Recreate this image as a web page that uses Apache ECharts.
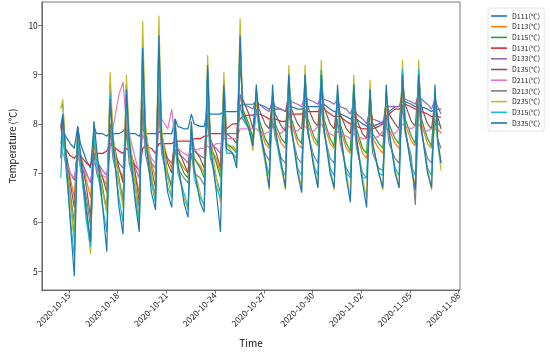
<!DOCTYPE html>
<html><head><meta charset="utf-8">
<script src="https://cdn.jsdelivr.net/npm/echarts@6/dist/echarts.min.js"></script>
<style>html,body{margin:0;padding:0;background:#fff}#c{width:550px;height:353px}</style>
</head><body><div id="c"></div>
<script>
// sampling times (year 2020): first partial day, then 4 readings per day, then last reading
const firstTimes = ['2020-10-14 12:00', '2020-10-14 15:00', '2020-10-14 19:00'];
const sampleDays = ['2020-10-15','2020-10-16','2020-10-17','2020-10-18','2020-10-19','2020-10-20','2020-10-21','2020-10-22','2020-10-23','2020-10-24','2020-10-25','2020-10-26','2020-10-27','2020-10-28','2020-10-29','2020-10-30','2020-10-31','2020-11-01','2020-11-02','2020-11-03','2020-11-04','2020-11-05','2020-11-06'];
const sampleHours = ['02:00', '08:00', '13:00', '17:00'];
const lastTimes = ['2020-11-06 22:00'];

const seriesNames = ['D111(℃)','D113(℃)','D115(℃)','D131(℃)','D133(℃)','D135(℃)','D211(℃)','D213(℃)','D235(℃)','D315(℃)','D335(℃)'];

const D111 = [8.0,7.9,7.75, 7.6,7.5,7.95,7.6, 7.25,7.1,7.95,7.8, 7.8,7.75,7.85,7.8, 7.8,7.85,7.95,7.8, 7.8,7.75,7.9,7.8, 7.8,7.8,7.85,7.8, 7.8,7.8,8.1,7.95, 7.9,7.9,8.2,8.0, 7.95,7.95,8.3,8.2, 8.2,8.2,8.25,8.25, 8.25,8.25,8.35,8.4, 8.4,8.4,8.45,8.4, 8.35,8.3,8.35,8.3, 8.3,8.25,8.35,8.35, 8.3,8.3,8.35,8.35, 8.35,8.35,8.4,8.4, 8.3,8.25,8.25,8.2, 8.15,8.1,8.15,8.1, 8.0,7.95,8.0,7.95, 8.0,8.05,8.15,8.25, 8.35,8.35,8.45,8.45, 8.4,8.35,8.4,8.35, 8.3,8.25,8.3,8.3, 8.3];
const D113 = [7.9,8.0,7.4, 6.9,6.5,7.6,7.35, 6.85,6.5,7.6,7.2, 6.9,6.75,8.0,7.5, 7.1,6.9,8.0,7.5, 7.0,6.6,8.2,7.7, 7.2,6.9,8.1,7.7, 7.3,7.1,7.7,7.3, 7.1,7.0,7.7,7.3, 7.15,7.0,8.5,7.5, 7.3,7.0,8.3,7.55, 7.55,7.45,8.6,8.3, 7.9,7.6,8.5,8.0, 7.6,7.5,8.4,7.9, 7.6,7.5,8.6,8.0, 7.6,7.5,8.6,8.0, 7.65,7.55,8.7,8.0, 7.6,7.5,8.4,7.9, 7.5,7.4,8.4,7.8, 7.4,7.3,8.3,7.7, 7.5,7.4,8.4,7.9, 7.6,7.5,8.7,8.0, 7.65,7.55,8.7,8.0, 7.6,7.5,8.4,7.9, 7.8];
const D115 = [8.35,8.4,7.4, 6.5,5.7,7.85,7.3, 6.3,5.5,7.9,7.3, 6.7,6.2,8.8,7.7, 6.9,6.4,8.8,7.6, 6.8,6.0,9.4,7.8, 6.9,6.5,9.6,7.7, 7.0,6.7,7.9,7.3, 7.0,6.9,7.9,7.3, 7.1,6.9,9.0,7.6, 7.2,6.9,8.6,7.6, 7.5,7.4,9.6,8.3, 8.0,7.7,8.7,8.1, 7.7,7.55,8.6,8.0, 7.7,7.6,9.0,8.1, 7.7,7.6,9.0,8.1, 7.75,7.6,9.1,8.1, 7.7,7.55,8.6,8.0, 7.6,7.45,8.8,7.9, 7.5,7.4,8.7,7.8, 7.6,7.5,8.6,8.0, 7.7,7.6,9.1,8.1, 7.75,7.6,9.1,8.1, 7.7,7.55,8.6,8.0, 7.95];
const D131 = [7.95,7.7,7.5, 7.35,7.3,7.4,7.35, 7.2,7.15,7.4,7.4, 7.4,7.45,7.6,7.55, 7.45,7.4,7.5,7.45, 7.15,7.05,7.5,7.55, 7.5,7.4,7.6,7.6, 7.6,7.6,7.65,7.65, 7.65,7.65,7.65,7.7, 7.7,7.75,7.75,7.8, 7.8,7.8,7.85,7.9, 8.0,8.0,8.1,8.15, 8.18,8.18,8.2,8.2, 8.15,8.1,8.1,8.1, 8.05,8.05,8.15,8.2, 8.2,8.2,8.25,8.25, 8.25,8.25,8.3,8.3, 8.2,8.15,8.15,8.15, 8.05,8.0,8.0,7.95, 7.9,7.9,7.9,7.9, 7.95,8.0,8.1,8.2, 8.3,8.3,8.35,8.4, 8.35,8.3,8.3,8.25, 8.2,8.15,8.15,8.15, 8.13];
const D133 = [7.7,7.8,7.4, 7.0,6.85,7.5,7.3, 7.0,6.8,7.4,7.25, 7.05,6.95,7.8,7.5, 7.2,7.1,7.9,7.5, 7.1,6.9,8.3,7.5, 7.2,7.1,8.4,7.5, 7.3,7.2,7.6,7.4, 7.3,7.2,7.6,7.45, 7.35,7.3,8.1,7.6, 7.5,7.4,8.0,7.8, 7.8,7.8,8.6,8.4, 8.35,8.3,8.5,8.4, 8.3,8.25,8.5,8.35, 8.3,8.25,8.6,8.45, 8.4,8.35,8.6,8.5, 8.45,8.4,8.6,8.5, 8.45,8.4,8.5,8.35, 8.3,8.2,8.4,8.2, 8.1,8.0,8.3,8.1, 8.05,8.0,8.4,8.35, 8.35,8.35,8.6,8.5, 8.45,8.4,8.6,8.5, 8.4,8.3,8.5,8.35, 8.2];
const D135 = [7.95,8.2,7.5, 6.8,6.3,7.8,7.4, 6.7,6.1,7.8,7.3, 6.9,6.6,8.7,7.7, 7.1,6.8,8.6,7.6, 7.0,6.4,9.6,7.9, 7.1,6.7,9.5,7.8, 7.2,7.0,7.9,7.5, 7.2,7.0,7.85,7.5, 7.3,7.1,8.9,7.7, 7.4,7.1,8.9,7.8, 7.7,7.6,9.2,8.5, 8.2,7.9,8.6,8.3, 8.0,7.9,8.5,8.2, 7.95,7.85,8.8,8.3, 8.0,7.9,8.8,8.35, 8.05,7.95,8.9,8.35, 8.0,7.9,8.5,8.2, 7.9,7.8,8.6,8.1, 7.8,7.7,8.5,8.0, 7.8,7.75,8.5,8.2, 8.0,7.9,8.9,8.4, 8.05,7.95,8.9,8.35, 8.0,7.9,8.5,8.15, 7.9];
const D211 = [7.5,7.4,7.25, 7.0,6.9,7.3,7.2, 6.95,6.85,7.2,7.1, 6.95,6.9,7.5,7.9, 8.6,8.85,8.0,7.8, 7.3,7.0,7.8,7.6, 7.3,7.2,7.9,8.1, 7.9,8.3,7.6,7.5, 7.4,7.35,7.5,7.45, 7.5,7.5,7.55,7.5, 7.6,7.6,7.7,7.7, 7.7,7.7,7.9,7.9, 7.9,7.9,7.9,7.85, 7.8,7.85,7.95,7.9, 7.8,7.95,7.95,7.9, 7.85,7.95,7.95,7.9, 7.85,7.95,8.0,7.9, 7.8,7.75,7.85,7.8, 7.75,7.7,7.8,7.75, 7.7,7.7,7.75,7.7, 7.75,7.85,7.9,7.85, 7.8,7.9,8.0,7.95, 7.9,7.95,8.0,7.9, 7.85,7.9,7.9,7.85, 7.85];
const D213 = [7.6,7.8,7.2, 6.6,6.0,7.5,7.1, 6.5,5.9,7.4,7.0, 6.6,6.3,8.0,7.3, 6.8,6.5,7.9,7.2, 6.7,6.3,8.5,7.4, 6.8,6.6,8.6,7.4, 6.9,6.8,7.5,7.1, 6.9,6.8,7.4,7.0, 6.9,6.75,8.2,7.3, 6.9,6.6,8.0,7.4, 7.4,7.3,8.4,8.1, 7.9,7.6,8.3,7.9, 7.4,7.25,8.1,7.7, 7.3,7.2,8.3,7.8, 7.3,7.2,8.3,7.8, 7.35,7.2,8.4,7.8, 7.3,7.2,8.1,7.6, 7.1,6.95,8.1,7.5, 7.0,6.9,8.0,7.4, 7.1,7.05,8.1,7.6, 7.3,7.2,8.4,7.8, 7.35,6.35,8.4,7.8, 7.3,7.2,8.1,7.7, 7.5];
const D235 = [8.3,8.5,7.4, 6.4,5.6,7.9,7.2, 6.2,5.35,8.05,7.3, 6.6,6.2,9.05,7.8, 6.8,6.3,9.0,7.8, 6.8,5.9,10.1,8.0, 7.0,6.4,10.2,7.9, 6.9,6.5,8.05,7.2, 6.5,6.25,8.05,7.1, 6.6,6.3,9.4,7.7, 6.9,6.4,9.05,7.6, 7.4,7.2,10.15,8.2, 7.9,7.45,8.6,7.9, 7.2,6.65,8.6,7.8, 7.1,6.65,9.2,7.9, 7.1,6.7,9.2,7.9, 7.2,6.7,9.3,7.9, 7.15,6.65,8.6,7.8, 7.0,6.5,9.0,7.7, 6.9,6.5,8.9,7.6, 7.0,6.65,8.6,7.8, 7.1,6.7,9.3,7.9, 7.2,6.7,9.3,7.9, 7.1,6.65,8.6,7.6, 7.05];
const D315 = [6.9,7.8,7.2, 6.1,5.3,7.7,7.2, 6.0,5.5,7.8,7.2, 6.3,5.8,8.6,7.5, 6.5,6.0,8.6,7.4, 6.5,6.0,9.3,7.6, 6.8,6.4,9.5,7.5, 6.7,6.5,7.9,7.0, 6.6,6.3,7.9,6.9, 6.5,6.35,9.1,7.4, 6.7,6.5,8.7,7.4, 7.4,7.3,9.6,8.1, 7.9,7.6,8.7,7.9, 7.3,6.95,8.6,7.8, 7.1,6.95,9.0,7.9, 7.1,6.95,9.0,7.9, 7.15,6.95,9.1,7.9, 7.1,6.95,8.7,7.8, 7.0,6.9,8.8,7.7, 6.9,6.9,8.7,7.6, 7.0,6.95,8.7,7.8, 7.1,6.95,9.1,7.9, 7.15,6.95,9.1,7.9, 7.1,6.95,8.7,7.6, 7.2];
const D335 = [7.3,8.2,7.5, 6.0,4.9,7.95,7.4, 6.2,5.6,8.05,7.5, 6.3,5.4,8.5,7.7, 6.3,5.75,8.7,7.7, 6.4,5.8,9.55,7.8, 6.6,6.25,9.8,7.7, 6.6,6.3,8.1,7.2, 6.4,6.1,8.05,7.1, 6.4,6.2,9.2,7.6, 6.6,5.8,8.8,7.5, 7.4,7.1,9.8,8.2, 7.9,7.55,8.8,8.0, 7.3,6.7,8.8,7.9, 7.2,6.7,9.0,7.9, 7.0,6.6,9.0,7.9, 7.1,6.7,9.0,7.9, 7.0,6.7,8.8,7.9, 6.9,6.4,8.8,7.7, 6.8,6.3,8.7,7.6, 7.0,6.7,8.8,7.9, 7.0,6.7,9.0,7.9, 7.1,6.65,9.0,7.9, 7.0,6.7,8.8,7.7, 7.2];

const seriesValues = [D111, D113, D115, D131, D133, D135, D211, D213, D235, D315, D335];
const colors = ['#1f77b4','#ff7f0e','#2ca02c','#d62728','#9467bd','#8c564b','#e377c2','#7f7f7f','#bcbd22','#17becf','#1f77b4'];

const xTickLabels = ['2020-10-15','2020-10-18','2020-10-21','2020-10-24','2020-10-27','2020-10-30','2020-11-02','2020-11-05','2020-11-08'];
const yTickLabels = [5, 6, 7, 8, 9, 10];

function ts(s) { const [d, t] = s.split(' '); const [Y, M, D] = d.split('-').map(Number); const [h, m] = (t || '00:00').split(':').map(Number); return Date.UTC(Y, M - 1, D, h, m); }
// x axis counts days from the first tick date
const ORIGIN = ts(xTickLabels[0]);
const DAY = 86400000;
const dayOf = s => (ts(s) - ORIGIN) / DAY;

const times = [];
firstTimes.forEach(t => times.push(t));
sampleDays.forEach(d => sampleHours.forEach(h => times.push(d + ' ' + h)));
lastTimes.forEach(t => times.push(t));
const xs = times.map(dayOf);
const xTickPos = xTickLabels.map(dayOf);

const FONT = '"Noto Sans CJK SC", "DejaVu Sans", sans-serif';
const chart = echarts.init(document.getElementById('c'), null, { renderer: 'canvas' });

chart.setOption({
  animation: false,
  backgroundColor: '#fff',
  color: colors,
  grid: { left: 30, right: 90, top: 2, bottom: 56, show: true, borderColor: '#555', borderWidth: 0.8, containLabel: false },
  legend: {
    orient: 'vertical', left: 488, top: 8,
    icon: 'rect', itemWidth: 16, itemHeight: 1.6, itemGap: 2.7,
    backgroundColor: '#fff', borderColor: '#ddd', borderWidth: 0.8, borderRadius: 2,
    padding: [4, 4, 4, 3],
    textStyle: { fontSize: 7, lineHeight: 8, color: '#222', fontFamily: FONT },
    data: seriesNames
  },
  xAxis: {
    type: 'value',
    min: dayOf('2020-10-13 08:00'), max: dayOf('2020-11-08 02:00'),
    name: 'Time', nameLocation: 'middle', nameGap: 48,
    nameTextStyle: { fontSize: 10, color: '#111', fontFamily: FONT },
    axisLine: { show: true, onZero: false, lineStyle: { color: '#555', width: 0.8 } },
    axisTick: { show: true, length: 3.5, lineStyle: { color: '#555', width: 0.8 }, customValues: xTickPos },
    axisLabel: {
      customValues: xTickPos,
      rotate: 45, fontSize: 8.5, color: '#222', fontFamily: FONT, margin: 4,
      formatter: v => { const i = xTickPos.findIndex(p => Math.abs(p - v) < 1e-6); return i >= 0 ? xTickLabels[i] : ''; }
    },
    splitLine: { show: false }
  },
  yAxis: {
    type: 'value', min: 4.62, max: 10.48,
    name: 'Temperature (℃)', nameLocation: 'middle', nameGap: 21, nameRotate: 90,
    nameTextStyle: { fontSize: 9.5, color: '#111', fontFamily: FONT },
    axisLine: { show: true, onZero: false, lineStyle: { color: '#555', width: 0.8 } },
    axisTick: { show: true, length: 3.5, lineStyle: { color: '#555', width: 0.8 }, customValues: yTickLabels },
    axisLabel: { customValues: yTickLabels, fontSize: 8.5, color: '#222', fontFamily: FONT, margin: 4 },
    splitLine: { show: false }
  },
  series: seriesNames.map((name, i) => ({
    name: name, type: 'line', symbol: 'none', showSymbol: false,
    lineStyle: { width: 1.2, color: colors[i] },
    itemStyle: { color: colors[i] },
    data: xs.map((x, k) => [x, seriesValues[i][k]])
  }))
});
</script></body></html>
